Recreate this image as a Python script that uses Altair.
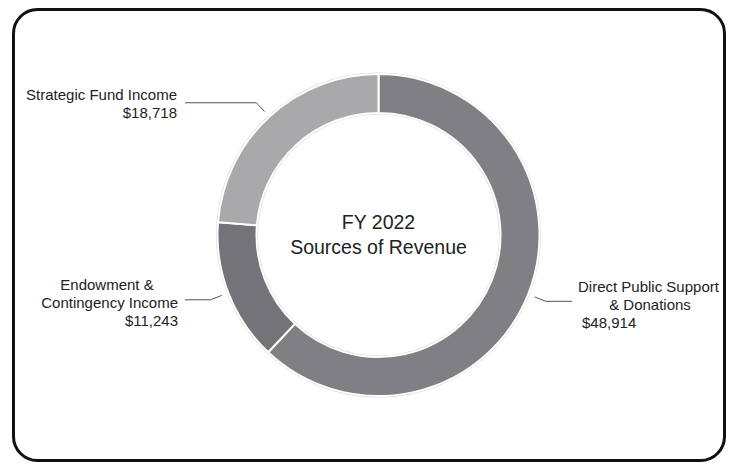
import math
import altair as alt
import pandas as pd

# ---------------- data ----------------
names = ["Direct Public Support & Donations", "Endowment & Contingency Income", "Strategic Fund Income"]
values = [48914, 11243, 18718]
label_lines = [["Direct Public Support", "& Donations"], ["Endowment &", "Contingency Income"], ["Strategic Fund Income"]]
colors = ["#808084", "#747478", "#a9a9ac"]
center_title = ["FY 2022", "Sources of Revenue"]

# ---------------- layout (picture pixels) ----------------
W, H = 719, 454
M = 8
def px(v):
    return v - M

CX, CY = px(378.5), px(235)
R_IN, R_OUT = 122, 161
R1, R2 = 168, 180
LEFT_END, RIGHT_END = px(185), px(572)
FONT = "Liberation Sans"

# per slice: (x, y, align) for each label line, value line last
label_pos = [
    [(578, 287, "left"), (650, 305, "center"), (582, 323, "left")],
    [(107, 285, "center"), (178, 303, "right"), (178, 321, "right")],
    [(177, 95, "right"), (177, 113, "right")],
]

df = pd.DataFrame({"name": names, "value": values, "order": list(range(len(names)))})

# leader lines derived from slice mid-angles
total = sum(values)
cum = 0
lead_rows = []
for i, (n, v) in enumerate(zip(names, values)):
    mid = (cum + v / 2) / total * 2 * math.pi
    cum += v
    s, c = math.sin(mid), math.cos(mid)
    p1 = (CX + R1 * s, CY - R1 * c)
    p2 = (CX + R2 * s, CY - R2 * c)
    p3 = (LEFT_END if s < 0 else RIGHT_END, p2[1])
    for k, p in enumerate([p1, p2, p3]):
        lead_rows.append({"name": n, "k": k, "x": p[0], "y": p[1]})
lead_df = pd.DataFrame(lead_rows)

text_rows = []
for i, v in enumerate(values):
    lines = label_lines[i] + [f"${v:,}"]
    for t, (x, y, a) in zip(lines, label_pos[i]):
        text_rows.append({"text": t, "x": px(x), "y": px(y), "align": a})
text_df = pd.DataFrame(text_rows)

center_df = pd.DataFrame({"text": center_title, "x": [CX, CX], "y": [px(223), px(248)]})

xs = alt.Scale(domain=[0, W], range=[0, W], nice=False, zero=False)
ys = alt.Scale(domain=[0, H], range=[0, H], nice=False, zero=False)

one = pd.DataFrame({"a": [0]})

ring_shadow = alt.Chart(one).mark_arc(
    innerRadius=R_IN - 1.5, outerRadius=R_OUT + 1.5, theta=0, theta2=2 * math.pi, color="#d6d6d8"
).encode(x=alt.value(CX), y=alt.value(CY))

arcs = alt.Chart(df).mark_arc(
    innerRadius=R_IN, outerRadius=R_OUT, stroke="white", strokeWidth=2
).encode(
    theta=alt.Theta("value:Q", stack=True),
    color=alt.Color("name:N", scale=alt.Scale(domain=names, range=colors), legend=None),
    order=alt.Order("order:Q"),
    x=alt.value(CX),
    y=alt.value(CY),
)

leaders = alt.Chart(lead_df).mark_line(color="#555555", strokeWidth=1).encode(
    x=alt.X("x:Q", scale=xs, axis=None),
    y=alt.Y("y:Q", scale=ys, axis=None),
    detail="name:N",
    order="k:Q",
)

text_layers = []
for a in ["left", "center", "right"]:
    sub = text_df[text_df["align"] == a]
    if len(sub):
        text_layers.append(
            alt.Chart(sub).mark_text(
                align=a, baseline="middle", font=FONT, fontSize=15, color="#222222"
            ).encode(
                x=alt.X("x:Q", scale=xs, axis=None),
                y=alt.Y("y:Q", scale=ys, axis=None),
                text="text:N",
            )
        )

center = alt.Chart(center_df).mark_text(
    align="center", baseline="middle", font=FONT, fontSize=19.5, color="#222222"
).encode(
    x=alt.X("x:Q", scale=xs, axis=None),
    y=alt.Y("y:Q", scale=ys, axis=None),
    text="text:N",
)

border = alt.Chart(one).mark_rect(
    fillOpacity=0, stroke="#111111", strokeWidth=3, cornerRadius=24
).encode(
    x=alt.value(px(13.5)), x2=alt.value(px(724.5)), y=alt.value(1.5), y2=alt.value(px(460.5))
)

chart = alt.layer(ring_shadow, arcs, leaders, *text_layers, center, border).properties(
    width=W, height=H, padding=0, autosize=alt.AutoSizeParams(type="none"), background="white"
).configure_view(stroke=None)

chart.save("out.html", embed_options={"renderer": "svg", "actions": False})
